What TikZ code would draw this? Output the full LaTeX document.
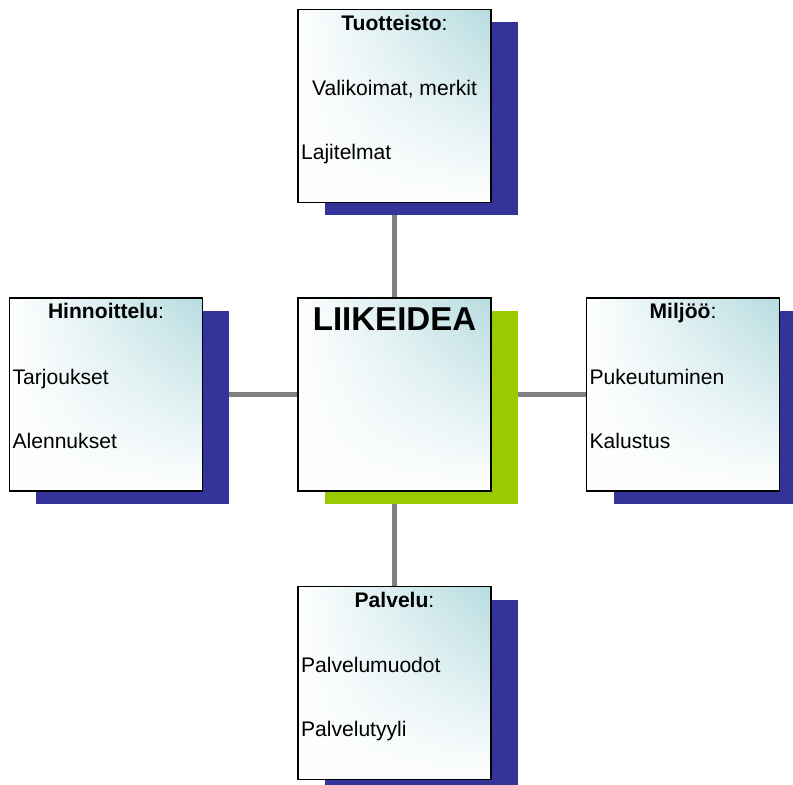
\documentclass[tikz,border=0pt]{standalone}
\usepackage{fontspec}
\setmainfont{Liberation Sans}
\usetikzlibrary{shadows,fadings,backgrounds}
\definecolor{shadowblue}{RGB}{51,51,153}
\definecolor{shadowgreen}{RGB}{153,204,0}
\definecolor{glow}{RGB}{182,220,224}
\definecolor{linkgray}{RGB}{128,128,128}
\tikzfading[name=fade up, top color=transparent!0, middle color=transparent!45, bottom color=transparent!100]
\tikzset{
  card/.style = {
    draw=black,
    line width=1pt,
    fill=white,
    minimum size=4.825cm,
    inner sep=0pt,
    outer sep=0pt,
    path picture={
      \shade[left color=white,middle color=glow!65!white,right color=glow,path fading=fade up]
        (path picture bounding box.south west) rectangle (path picture bounding box.north east);
    },
    drop shadow={shadow xshift=0.675cm,shadow yshift=-0.325cm,fill=#1,opacity=1}
  },
  card/.default = shadowblue,
  link/.style = {draw=linkgray,line width=4pt},
  head/.style = {anchor=base,inner sep=0pt,font=\fontsize{15}{18}\selectfont},
  item/.style = {anchor=base west,inner sep=0pt,font=\fontsize{15}{18}\selectfont}
}

\begin{document}
\begin{tikzpicture}
  \pgfmathsetmacro{\gap}{7.2125};
  \pgfmathsetmacro{\headdrop}{0.525};
  \pgfmathsetmacro{\firstdrop}{2.15};
  \pgfmathsetmacro{\seconddrop}{3.75};
  \pgfmathsetmacro{\inset}{0.07};
  \useasboundingbox (-9.8625,-9.7625) rectangle (9.9625,9.8625);
  \clip (-9.8625,-9.7625) rectangle (9.9625,9.8625);
  % boxes
  \node[card=shadowgreen] (idea) at (0,0) {};
  \node[card] (tuote) at (0,{\gap}) {};
  \node[card] (hinta) at ({-\gap},0) {};
  \node[card] (miljoo) at ({\gap},0) {};
  \node[card] (palvelu) at (0,{-\gap}) {};
  % links
  \begin{scope}[on background layer]
    \foreach \n in {tuote,hinta,miljoo,palvelu} {%
      \draw[link] (idea) -- (\n);
    }
  \end{scope}
  % texts
  \node[anchor=base,inner sep=0pt,font=\fontsize{23.5}{28}\selectfont\bfseries] (idea-head)
    at ([yshift=-0.825cm]idea.north) {LIIKEIDEA};
  \node[head] (tuote-head) at ([yshift=-\headdrop cm]tuote.north) {\textbf{Tuotteisto}:};
  \node[head] (tuote-a) at ([yshift=-\firstdrop cm]tuote.north) {Valikoimat, merkit};
  \node[item] (tuote-b) at ([xshift=\inset cm,yshift=-\seconddrop cm]tuote.north west) {Lajitelmat};
  \node[head] (hinta-head) at ([yshift=-\headdrop cm]hinta.north) {\textbf{Hinnoittelu}:};
  \node[item] (hinta-a) at ([xshift=\inset cm,yshift=-\firstdrop cm]hinta.north west) {Tarjoukset};
  \node[item] (hinta-b) at ([xshift=\inset cm,yshift=-\seconddrop cm]hinta.north west) {Alennukset};
  \node[head] (miljoo-head) at ([yshift=-\headdrop cm]miljoo.north) {\textbf{Miljöö}:};
  \node[item] (miljoo-a) at ([xshift=\inset cm,yshift=-\firstdrop cm]miljoo.north west) {Pukeutuminen};
  \node[item] (miljoo-b) at ([xshift=\inset cm,yshift=-\seconddrop cm]miljoo.north west) {Kalustus};
  \node[head] (palvelu-head) at ([yshift=-\headdrop cm]palvelu.north) {\textbf{Palvelu}:};
  \node[item] (palvelu-a) at ([xshift=\inset cm,yshift=-\firstdrop cm]palvelu.north west) {Palvelumuodot};
  \node[item] (palvelu-b) at ([xshift=\inset cm,yshift=-\seconddrop cm]palvelu.north west) {Palvelutyyli};
\end{tikzpicture}
\end{document}
